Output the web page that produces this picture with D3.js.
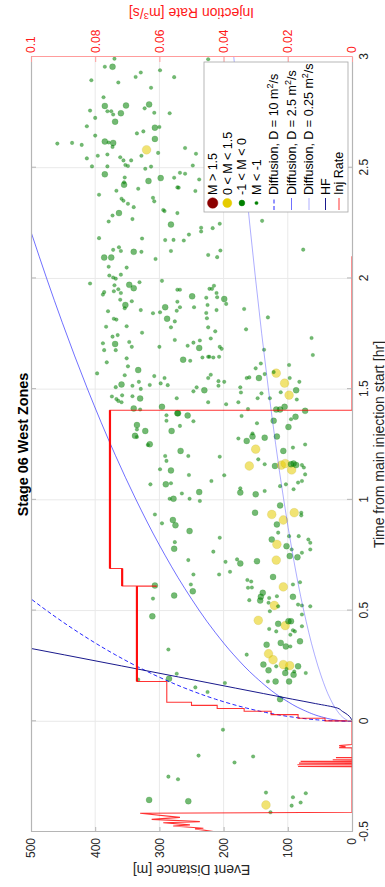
<!DOCTYPE html>
<html>
<head>
<meta charset="utf-8">
<script src="https://cdn.jsdelivr.net/npm/d3@7"></script>
<style>
  body { margin: 0; background: #fff; }
  svg { display: block; font-family: "Liberation Sans", Arial, Helvetica, sans-serif; }
</style>
</head>
<body>
<svg id="chart" width="385" height="887"></svg>
<script>
// ---- data (time in hr from main injection start, distance in m) ----
const timeTicks = [-0.5, 0, 0.5, 1, 1.5, 2, 2.5, 3];
const distTicks = [0, 100, 200, 300, 400, 500];
const rateTicks = [0, 0.02, 0.04, 0.06, 0.08, 0.1];

const eventTime = [2.992,2.956,2.956,2.895,2.885,2.910,2.930,2.940,2.909,2.861,
  2.818,2.779,2.755,2.755,2.740,2.746,2.781,2.786,2.768,2.748,
  2.746,2.758,2.725,2.708,2.687,2.645,2.618,2.614,2.612,2.594,
  2.655,2.664,2.681,2.684,2.630,2.581,2.567,2.609,2.612,2.603,
  2.542,2.554,2.560,2.547,2.533,2.533,2.554,2.506,2.506,2.512,
  2.508,2.495,2.505,2.470,2.456,2.434,2.440,2.453,2.455,2.990,
  2.589,2.563,2.510,2.477,2.473,2.447,2.423,2.396,2.378,2.405,
  2.411,2.360,2.351,2.337,2.322,2.364,2.348,2.295,2.284,2.257,
  2.268,2.309,2.304,2.295,2.243,2.182,2.180,2.173,2.174,2.141,
  2.129,2.124,2.120,2.120,2.124,2.094,2.094,2.088,2.053,2.049,
  2.013,2.004,1.999,2.017,1.977,1.969,1.951,1.971,1.956,1.983,
  1.989,1.949,1.938,1.927,1.942,1.934,1.904,1.897,1.880,1.865,
  1.870,2.410,2.395,2.198,2.229,2.212,2.227,2.247,2.260,2.106,
  2.096,2.126,2.130,1.949,1.919,1.953,1.967,1.953,1.934,1.915,
  1.913,1.907,1.885,1.880,1.870,1.862,1.895,2.171,1.870,1.857,
  1.857,1.852,1.843,1.847,1.818,1.814,1.818,1.806,1.782,1.784,
  1.779,1.755,1.737,1.744,1.707,1.704,1.713,1.691,1.676,1.676,
  1.691,1.722,1.639,1.621,1.603,1.586,1.571,1.563,1.559,1.550,
  1.533,1.509,1.521,1.515,1.501,1.519,1.526,1.518,1.467,1.455,
  1.447,1.472,1.441,1.468,1.458,1.413,1.408,1.420,1.382,1.391,
  1.338,1.311,1.318,1.311,1.854,1.844,1.820,1.779,1.761,1.824,
  1.770,1.720,1.710,1.729,1.696,1.686,1.691,1.682,1.678,1.731,
  1.654,1.633,1.628,1.643,1.646,1.646,1.643,1.646,1.594,1.616,
  1.609,1.572,1.577,1.568,1.550,1.550,1.553,1.550,1.565,1.550,
  1.527,1.533,1.536,1.533,1.515,1.508,1.490,1.495,1.508,1.485,
  1.481,1.459,1.459,1.486,1.473,1.495,1.453,1.459,1.441,1.432,
  1.441,1.391,1.381,1.355,1.410,1.379,1.408,1.408,1.420,1.402,
  1.375,1.364,1.357,1.346,1.329,1.300,1.334,1.289,1.284,1.251,
  1.248,1.357,1.198,1.176,1.221,1.198,1.133,1.138,1.070,1.070,
  1.075,1.112,1.035,1.029,1.005,1.005,1.005,1.195,1.111,1.085,
  1.033,1.025,1.040,1.277,1.266,1.286,1.281,1.286,1.221,1.236,
  1.250,1.229,1.153,1.183,1.161,1.153,1.157,1.164,1.135,1.161,
  1.164,1.157,1.157,1.146,1.115,1.085,1.078,1.048,1.070,1.062,
  1.052,0.995,0.934,0.894,0.909,0.885,0.859,0.809,0.779,0.728,
  0.829,0.766,0.720,0.675,0.731,0.713,0.663,0.663,0.618,0.587,
  0.568,0.613,0.554,0.474,0.324,0.638,0.631,0.603,0.604,0.942,
  0.934,0.942,0.909,0.975,0.942,0.930,0.889,0.852,0.836,0.836,
  0.821,0.806,0.821,0.799,0.791,0.776,0.776,0.761,0.746,0.741,
  0.723,0.728,0.652,0.607,0.618,0.628,0.580,0.562,0.557,0.565,
  0.562,0.547,0.545,0.535,0.523,0.519,0.527,0.523,0.519,0.482,
  0.497,0.456,0.417,0.440,0.432,0.452,0.452,0.411,0.406,0.429,
  0.406,0.391,0.361,0.354,0.338,0.338,0.346,0.301,0.305,0.278,
  0.256,0.230,0.248,0.256,0.251,0.236,0.225,0.248,0.218,0.210,
  0.218,0.180,0.180,0.180,0.100,0.192,0.188,0.215,0.153,0.132,
  0.173,-0.038,-0.155,-0.159,-0.186,-0.250,-0.262,-0.355,-0.361,-0.378,
  -0.322,-0.343,-0.325,-0.381,-0.367,-0.411];

const eventDist = [370,385,373,406,364,337,329,299,277,313,
  387,385,381,375,372,360,352,316,323,308,
  284,408,400,369,413,400,385,379,372,373,
  335,325,307,300,307,320,302,459,436,421,
  413,396,381,361,356,344,328,405,381,353,
  349,322,313,385,354,355,317,298,277,224,
  260,243,248,268,260,238,355,367,394,333,
  272,359,356,349,340,310,308,363,373,379,
  342,294,292,272,282,394,327,291,278,363,
  372,360,340,328,282,386,375,306,379,351,
  378,372,368,360,408,370,364,347,340,331,
  296,272,386,388,371,360,361,343,353,354,
  291,270,244,254,235,235,217,206,140,224,
  210,205,76,268,249,222,215,218,211,210,
  227,199,196,225,246,168,272,262,268,211,
  329,380,310,299,371,367,288,276,383,351,
  282,327,373,365,388,369,347,343,386,368,
  300,276,351,382,349,333,397,354,308,292,
  332,368,359,342,329,315,298,287,374,367,
  364,358,359,342,330,340,330,296,289,272,
  335,322,335,281,273,227,226,224,213,131,
  165,237,247,220,256,238,206,203,137,63,
  61,263,252,233,224,222,216,207,150,142,
  98,118,122,136,145,164,160,224,220,97,
  105,82,208,199,208,242,247,230,174,173,
  141,147,128,111,98,87,86,273,224,196,
  177,271,256,247,162,172,118,112,105,73,
  88,95,122,148,99,155,268,338,335,315,
  318,289,291,289,267,255,282,299,314,290,
  282,254,238,265,284,278,253,206,199,219,
  174,150,136,177,164,155,136,117,107,92,
  73,150,160,146,136,120,110,104,94,95,
  91,87,78,75,73,78,84,91,103,112,
  174,237,307,296,279,275,253,276,277,255,
  206,216,197,190,179,174,207,247,251,248,
  277,307,310,311,286,163,157,162,156,151,
  125,90,107,112,79,79,117,115,98,83,
  68,65,125,117,102,94,65,78,97,85,
  148,118,123,107,92,81,139,142,129,117,
  92,160,143,130,121,115,84,78,65,78,
  128,146,129,115,104,99,95,92,89,78,
  118,96,81,111,103,96,133,164,130,123,
  138,130,118,107,97,102,90,84,72,91,
  104,119,131,98,112,285,333,273,244,225,
  198,201,239,154,183,286,271,316,255,134,
  134,92,72,94,80,127];

const eventMag = [-1.2,-1.2,-0.5,-1.2,-1.2,-1.2,-1.2,-1.2,-1.2,-1.2,
  -1.2,-0.5,-1.2,-1.2,-1.2,-0.5,-0.5,-0.5,-1.2,-1.2,
  -1.2,-1.2,-1.2,-0.5,-1.2,-1.2,-0.5,-1.2,-0.5,-1.2,
  -1.2,-1.2,-0.5,-1.2,-0.5,0.4,-1.2,-1.2,-1.2,-1.2,
  -1.2,-1.2,-1.2,-1.2,-1.2,-1.2,-1.2,-1.2,-1.2,-1.2,
  -1.2,-1.2,-1.2,-0.5,-1.2,-1.2,-0.5,-0.5,-1.2,-1.2,
  -1.2,-1.2,-1.2,-1.2,-1.2,-1.2,-0.5,-1.2,-1.2,-1.2,
  -1.2,-1.2,-1.2,-1.2,-1.2,-1.2,-1.2,-0.5,-1.2,-1.2,
  -1.2,-1.2,-1.2,-1.2,-0.5,-1.2,-1.2,-1.2,-1.2,-1.2,
  -1.2,-1.2,-0.5,-1.2,-1.2,-0.5,-0.5,-1.2,-1.2,-1.2,
  -1.2,-1.2,-1.2,-1.2,-1.2,-1.2,-1.2,-0.5,-0.5,-1.2,
  -1.2,-1.2,-1.2,-1.2,-1.2,-1.2,-1.2,-1.2,-0.5,-1.2,
  -0.5,-1.2,-1.2,-1.2,-1.2,-1.2,-1.2,-1.2,-1.2,-1.2,
  -1.2,-1.2,-1.2,-1.2,-0.5,-1.2,-1.2,-1.2,-1.2,-1.2,
  -1.2,-0.5,-1.2,-1.2,-1.2,-1.2,-1.2,-1.2,-1.2,-1.2,
  -1.2,-1.2,-1.2,-1.2,-1.2,-1.2,-0.5,-1.2,-1.2,-1.2,
  -1.2,-1.2,-1.2,-1.2,-1.2,-0.5,-1.2,-1.2,-1.2,-1.2,
  -1.2,-1.2,-1.2,-1.2,-1.2,-0.5,-1.2,-1.2,-1.2,-1.2,
  -1.2,-1.2,-0.5,-1.2,-1.2,-1.2,-1.2,-1.2,-1.2,-1.2,
  -1.2,-1.2,-1.2,-1.2,-0.5,-0.5,-1.2,-0.5,-1.2,-0.5,
  -0.5,-0.5,-1.2,-0.5,-1.2,-1.2,-1.2,-1.2,-1.2,-1.2,
  -1.2,-1.2,-1.2,-1.2,-1.2,-0.5,-1.2,-1.2,-1.2,-1.2,
  -1.2,-0.5,-1.2,-1.2,-1.2,-1.2,-1.2,-1.2,-1.2,-1.2,
  -1.2,0.4,-1.2,-1.2,-0.5,-1.2,-1.2,-1.2,-1.2,-1.2,
  0.4,-1.2,-1.2,-1.2,-1.2,-1.2,-1.2,-0.5,-1.2,-1.2,
  -1.2,-1.2,-1.2,-1.2,0.4,-0.5,-1.2,-1.2,-1.2,-1.2,
  -1.2,-0.5,-0.5,-1.2,-1.2,-1.2,-0.5,-0.5,-0.5,-0.5,
  -0.5,-1.2,-0.5,-1.2,-0.5,-1.2,-1.2,-0.5,-1.2,-0.5,
  -1.2,-1.2,-1.2,-1.2,-0.5,-1.2,-0.5,-1.2,-1.2,-0.5,
  -1.2,-1.2,-0.5,-1.2,-1.2,-0.5,-1.2,-1.2,-1.2,-1.2,
  -0.5,-0.5,-1.2,-1.2,-0.5,-0.5,-0.5,-0.5,-0.5,-1.2,
  -1.2,0.4,0.4,-1.2,-1.2,-0.5,0.4,0.4,0.4,-0.5,
  -0.5,-0.5,-1.2,-1.2,-1.2,-1.2,-1.2,-1.2,-1.2,-1.2,
  -1.2,-1.2,-1.2,-1.2,-0.5,-0.5,-0.5,-1.2,-0.5,-1.2,
  -1.2,-1.2,-1.2,-1.2,-1.2,-0.5,-1.2,-1.2,-1.2,-0.5,
  -0.5,-0.5,-1.2,-0.5,-1.2,-1.2,-1.2,-1.2,-1.2,-0.5,
  0.4,0.4,0.4,-0.5,-1.2,-1.2,-0.5,-1.2,-1.2,-1.2,
  -1.2,-1.2,-0.5,0.4,-0.5,-1.2,-1.2,-1.2,-0.5,-0.5,
  -0.5,0.4,-0.5,0.4,-1.2,-1.2,-0.5,-0.5,-1.2,-1.2,
  -0.5,-1.2,-0.5,-1.2,0.4,-1.2,-1.2,-1.2,-1.2,-1.2,
  -1.2,0.4,-1.2,-0.5,0.4,-0.5,-0.5,-1.2,-1.2,-1.2,
  -1.2,-1.2,-0.5,-0.5,-0.5,-1.2,-0.5,-1.2,0.4,0.4,
  -0.5,-0.5,-1.2,0.4,0.4,-1.2,-1.2,-0.5,-1.2,-0.5,
  -0.5,-0.5,-1.2,-0.5,-0.5,-0.5,-1.2,-1.2,-1.2,-1.2,
  -1.2,-1.2,-1.2,-1.2,-1.2,-1.2,-1.2,-0.5,-0.5,0.4,
  -1.2,-1.2,-1.2,-1.2,-1.2,-1.2];

// injection rate [m^3/s]
const rateTime = [-0.501,-0.486,-0.483,-0.473,-0.468,-0.458,-0.453,-0.443,-0.434,-0.415,-0.411,
  -0.205,-0.204,-0.203,-0.197,-0.196,-0.195,-0.190,-0.189,-0.188,-0.182,-0.181,-0.180,
  -0.175,-0.174,-0.173,-0.165,-0.164,-0.163,-0.120,-0.119,-0.115,-0.110,-0.105,
  0, 0.002, 0.002, 0.014, 0.014, 0.030, 0.030, 0.045, 0.045, 0.058, 0.058,
  0.072, 0.072, 0.086, 0.086, 0.18, 0.18, 0.61, 0.61, 0.611, 0.611, 0.69, 0.69, 1.405, 1.405, 2.10];
const rateValue = [0.0416,0.0489,0.0463,0.0557,0.0505,0.0588,0.0474,0.0624,0.0536,0.066,0,
  0,0.0168,0,0,0.017,0,0,0.0165,0,0,0.016,0,
  0,0.006,0,0,0.005,0,0,0.004,0.002,0.004,0,
  0, 0, 0.0084, 0.0084, 0.0168, 0.0168, 0.0252, 0.0252, 0.0336, 0.0336, 0.042,
  0.042, 0.050, 0.050, 0.0577, 0.0577, 0.067, 0.067, 0.061, 0.061, 0.0716, 0.0716, 0.0754, 0.0754, 0, 0];
// time span where the pumped rate holds its plateaus (trace drawn heavier there)
const plateauSpan = [0.18, 1.405];

// diffusion fronts and hydraulic fracture front
const d10Time = [0,0.002,0.005,0.01,0.02,0.04,0.06,0.08,0.1,0.15,0.2,0.25,0.3,0.35,0.4,0.45,0.5,0.56];
const d10Dist = [0,30.1,47.6,67.3,95.1,134.5,164.7,190.2,212.7,260.5,300.8,336.3,368.4,397.9,425.4,451.2,475.6,503.3];
const d25Time = [0,0.002,0.005,0.01,0.02,0.05,0.1,0.2,0.3,0.4,0.6,0.8,1.0,1.2,1.5,1.8,2.0,2.2,2.25];
const d25Dist = [0,15.0,23.8,33.6,47.6,75.2,106.3,150.4,184.2,212.7,260.5,300.8,336.3,368.4,411.9,451.2,475.6,498.8,504.5];
const d025Time = [0,0.002,0.005,0.01,0.02,0.05,0.1,0.2,0.3,0.5,0.75,1,1.5,2,2.5,3];
const d025Dist = [0,4.8,7.5,10.6,15.0,23.8,33.6,47.5,58.2,75.2,92.1,106.3,130.2,150.3,168.1,184.1];
const hfTime = [0,0.015,0.03,0.045,0.06,0.08,0.1,0.2,0.3,0.33];
const hfDist = [0,2,7,15,23,57,93,270,448,502];

// ---- layout: chart is laid out landscape, then turned a quarter to the left ----
const W = 887, H = 385;
const svg = d3.select('#chart');
const g = svg.append('g').attr('transform', `translate(0,${W}) rotate(-90)`);

const x = d3.scaleLinear().domain([-0.5, 3]).range([55, 830]);
const y = d3.scaleLinear().domain([0, 500]).range([352, 31]);
const yR = d3.scaleLinear().domain([0, 0.1]).range([352, 31]);
const [x0, x1] = x.range();
const [y0, y1] = y.range();

g.append('defs').append('clipPath').attr('id', 'plotclip')
  .append('rect').attr('x', x0).attr('y', y1).attr('width', x1 - x0).attr('height', y0 - y1);

// grid
const grid = g.append('g').attr('stroke', '#e9e9e9').attr('stroke-width', 1);
grid.selectAll('.gy').data(distTicks.slice(1, -1)).enter().append('line')
  .attr('x1', x0).attr('x2', x1).attr('y1', d => y(d)).attr('y2', d => y(d));
grid.selectAll('.gx').data(timeTicks.slice(1, -1)).enter().append('line')
  .attr('y1', y0).attr('y2', y1).attr('x1', d => x(d)).attr('x2', d => x(d));

// events
const radius = d3.scaleThreshold().domain([-1, 0, 1.5]).range([1.8, 3, 4.4, 5.5]);
const fill = d3.scaleThreshold().domain([-1, 0, 1.5]).range(['#008000', '#008000', '#e6cc00', '#8b0000']);
const events = eventTime.map((t, i) => ({ t, d: eventDist[i], m: eventMag[i] }));
g.append('g').attr('clip-path', 'url(#plotclip)')
  .selectAll('circle').data(events).enter().append('circle')
  .attr('cx', d => x(d.t))
  .attr('cy', d => y(d.d))
  .attr('r', d => radius(d.m))
  .attr('fill', d => fill(d.m))
  .attr('fill-opacity', 0.55)
  .attr('stroke', d => d.m > 0 ? '#b8a830' : '#008000')
  .attr('stroke-opacity', 0.3)
  .attr('stroke-width', 0.6);

// fronts
const frontLine = d3.line().x(d => x(d[0])).y(d => y(d[1])).curve(d3.curveMonotoneX);
const fronts = [
  { t: d10Time, r: d10Dist, color: '#0000ff', dash: '4,2.5', w: 1, op: 0.85 },
  { t: d25Time, r: d25Dist, color: '#0000ff', dash: null, w: 0.75, op: 0.75 },
  { t: d025Time, r: d025Dist, color: '#2a2aff', dash: null, w: 0.7, op: 0.55 },
  { t: hfTime, r: hfDist, color: '#000080', dash: null, w: 1, op: 0.9 },
];
const frontG = g.append('g').attr('clip-path', 'url(#plotclip)');
fronts.forEach(f => {
  frontG.append('path')
    .attr('d', frontLine(f.t.map((t, i) => [t, f.r[i]])))
    .attr('fill', 'none')
    .attr('stroke', f.color)
    .attr('stroke-width', f.w)
    .attr('stroke-opacity', f.op)
    .attr('stroke-dasharray', f.dash);
});

// injection rate
const ratePts = rateTime.map((t, i) => [t, rateValue[i]]);
const rateLine = d3.line().x(d => x(d[0])).y(d => yR(d[1]));
const rateG = g.append('g').attr('clip-path', 'url(#plotclip)')
  .attr('fill', 'none').attr('stroke', '#ff0000');
rateG.append('path')
  .attr('d', rateLine(ratePts))
  .attr('stroke-opacity', 0.8)
  .attr('stroke-width', 1.1);
// constant-rate stretches of the main stage look heavier in the source (noisy trace)
const plateaus = d3.pairs(ratePts).filter(([a, b]) =>
  a[1] === b[1] && a[1] > 0.06 && a[0] >= plateauSpan[0] && b[0] <= plateauSpan[1]);
rateG.selectAll('.plateau').data(plateaus).enter().append('path')
  .attr('d', d => rateLine(d))
  .attr('stroke-opacity', 0.9)
  .attr('stroke-width', 2.2);

// axes
function styleAxis(sel, lineColor, textColor) {
  sel.attr('font-size', 12).attr('font-family', null);
  sel.select('.domain').attr('stroke', lineColor).attr('stroke-width', 1.2);
  sel.selectAll('.tick line').attr('stroke', lineColor);
  sel.selectAll('.tick text').attr('fill', textColor);
}
const fmt = d => String(d);
g.append('g').attr('transform', `translate(0,${y0})`)
  .call(d3.axisBottom(x).tickValues(timeTicks).tickFormat(fmt).tickSizeInner(-5).tickSizeOuter(0).tickPadding(7.5))
  .call(s => styleAxis(s, '#b5b5b5', '#262626'));
g.append('g').attr('transform', `translate(0,${y1})`)
  .call(d3.axisTop(x).tickValues(timeTicks).tickFormat('').tickSizeInner(-5).tickSizeOuter(0))
  .call(s => styleAxis(s, '#b5b5b5', '#262626'));
g.append('g').attr('transform', `translate(${x0},0)`)
  .call(d3.axisLeft(y).tickValues(distTicks).tickFormat(fmt).tickSizeInner(-5).tickSizeOuter(0).tickPadding(6))
  .call(s => styleAxis(s, '#b5b5b5', '#262626'));
g.append('g').attr('transform', `translate(${x1},0)`)
  .call(d3.axisRight(yR).tickValues(rateTicks).tickFormat(fmt).tickSizeInner(-5).tickSizeOuter(0).tickPadding(4))
  .call(s => styleAxis(s, '#ff9c9c', '#ff1a1a'));

// labels
g.append('text').attr('x', (x0 + x1) / 2).attr('y', 28)
  .attr('text-anchor', 'middle').attr('font-size', 14.4).attr('font-weight', 'bold')
  .attr('fill', '#000').text('Stage 06 West Zones');
g.append('text').attr('x', (x0 + x1) / 2).attr('y', 383.5)
  .attr('text-anchor', 'middle').attr('font-size', 14).attr('fill', '#262626')
  .text('Time from main injection start [hr]');
g.append('text').attr('transform', `translate(22,${(y0 + y1) / 2}) rotate(-90)`)
  .attr('text-anchor', 'middle').attr('font-size', 14).attr('fill', '#262626')
  .text('Event Distance [m]');
const rl = g.append('text').attr('transform', `translate(879,${(y0 + y1) / 2}) rotate(-90)`)
  .attr('text-anchor', 'middle').attr('font-size', 14).attr('fill', '#ff1a1a');
rl.append('tspan').text('Injection Rate [m');
rl.append('tspan').attr('dy', -5).attr('font-size', 9.5).text('3');
rl.append('tspan').attr('dy', 5).text('/s]');

// legend
const legendItems = [
  { label: 'M > 1.5', type: 'dot', m: 2 },
  { label: '0 < M < 1.5', type: 'dot', m: 0.4 },
  { label: '-1 < M < 0', type: 'dot', m: -0.5 },
  { label: 'M < -1', type: 'dot', m: -1.2 },
  { label: 'Diffusion, D = 10 m', sup: '2', tail: '/s', type: 'line', f: 0 },
  { label: 'Diffusion, D = 2.5 m', sup: '2', tail: '/s', type: 'line', f: 1 },
  { label: 'Diffusion, D = 0.25 m', sup: '2', tail: '/s', type: 'line', f: 2 },
  { label: 'HF', type: 'line', f: 3 },
  { label: 'Inj Rate', type: 'rate' },
];
const rowY = [212.7, 227.3, 241.9, 256.5, 274, 291.5, 309, 325.5, 339];
const legendR = d3.scaleThreshold().domain([-1, 0, 1.5]).range([1.6, 2.9, 4.5, 5.2]);
const leg = g.append('g');
leg.append('rect').attr('x', 675).attr('y', 204).attr('width', 150).attr('height', 144)
  .attr('fill', '#fff').attr('stroke', '#a6a6a6').attr('stroke-width', 0.8);
legendItems.forEach((it, i) => {
  const ry = rowY[i];
  if (it.type === 'dot') {
    leg.append('circle').attr('cx', 684).attr('cy', ry).attr('r', legendR(it.m))
      .attr('fill', fill(it.m)).attr('stroke', fill(it.m)).attr('stroke-width', 0.5);
  } else {
    const f = it.type === 'rate' ? { color: '#ff0000', dash: null, w: 1, op: 0.8 } : fronts[it.f];
    leg.append('line').attr('x1', 677).attr('x2', 689).attr('y1', ry).attr('y2', ry)
      .attr('stroke', f.color).attr('stroke-width', f.w).attr('stroke-opacity', f.op)
      .attr('stroke-dasharray', f.dash);
  }
  const t = leg.append('text').attr('x', 692).attr('y', ry).attr('dy', '0.35em')
    .attr('font-size', 12.5).attr('fill', '#000');
  t.append('tspan').text(it.label);
  if (it.sup) {
    t.append('tspan').attr('dy', -5).attr('font-size', 9).text(it.sup);
    t.append('tspan').attr('dy', 5).text(it.tail);
  }
});
</script>
</body>
</html>
